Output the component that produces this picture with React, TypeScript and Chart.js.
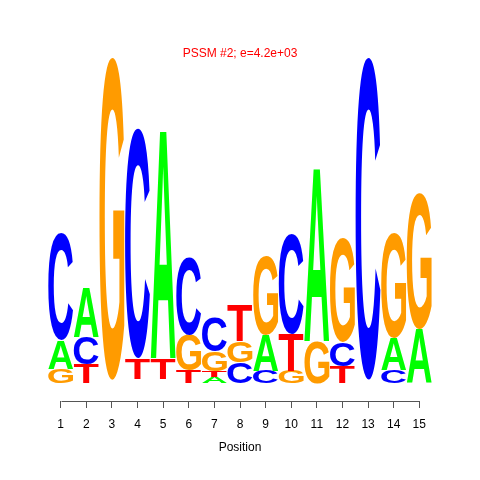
import React, { useEffect, useRef } from "react";
import { Chart, registerables } from "chart.js";

Chart.register(...registerables);

const positions = ["1", "2", "3", "4", "5", "6", "7", "8", "9", "10", "11", "12", "13", "14", "15"];
const letters = ["A", "C", "G", "T"];
const heightA = [0.178, 0.301, 0.010, 0.012, 1.411, 0, 0.037, 0, 0.221, 0, 1.071, 0, 0.012, 0.196, 0.334];
const heightC = [0.653, 0.166, 0.012, 1.411, 0.012, 0.479, 0.206, 0.128, 0.077, 0.613, 0, 0.147, 1.978, 0.083, 0];
const heightG = [0.086, 0, 1.980, 0.015, 0.015, 0.218, 0.120, 0.130, 0.482, 0.077, 0.258, 0.641, 0.012, 0.644, 0.834];
const heightT = [0, 0.120, 0, 0.129, 0.129, 0.077, 0.040, 0.226, 0, 0.227, 0, 0.104, 0, 0, 0];
const letterColors: Record<string, string> = { A: "#00FF00", C: "#0000FF", G: "#FF9B00", T: "#FF0000" };
const titleText = "PSSM #2; e=4.2e+03";
const xTitle = "Position";

const FONT = "'Liberation Sans', Arial, Helvetica, sans-serif";

export default function App() {
  const ref = useRef<HTMLCanvasElement>(null);

  useEffect(() => {
    document.body.style.margin = "0";
    const canvas = ref.current!;
    const all = [heightA, heightC, heightG, heightT];
    const rankLetters: string[][] = [[], [], [], []];
    const rankValues: number[][] = [[], [], [], []];
    positions.forEach((_, i) => {
      const items = letters.map((l, k) => ({ l, v: all[k][i] }));
      items.sort((a, b) => a.v - b.v);
      items.forEach((it, r) => {
        rankLetters[r].push(it.l);
        rankValues[r].push(it.v);
      });
    });

    const datasets = rankValues.map((vals, r) => ({
      label: "rank" + r,
      data: vals,
      backgroundColor: "rgba(0,0,0,0)",
      borderWidth: 0,
      barPercentage: 1,
      categoryPercentage: 0.975,
    }));

    const metricsCache: Record<string, TextMetrics> = {};
    const logoPlugin = {
      id: "logoLetters",
      afterDatasetsDraw(chart: any) {
        const ctx = chart.ctx as CanvasRenderingContext2D;
        ctx.save();
        ctx.font = "bold 100px " + FONT;
        ctx.textAlign = "left";
        ctx.textBaseline = "alphabetic";
        chart.data.datasets.forEach((_: any, r: number) => {
          const meta = chart.getDatasetMeta(r);
          meta.data.forEach((el: any, i: number) => {
            const v = rankValues[r][i];
            if (!v || v <= 0) return;
            const L = rankLetters[r][i];
            const p = el.getProps(["x", "y", "base", "width"], true);
            const left = p.x - p.width / 2;
            const top = Math.min(p.y, p.base);
            const h = Math.abs(p.base - p.y);
            if (h < 4) return;
            let m = metricsCache[L];
            if (!m) {
              m = ctx.measureText(L);
              metricsCache[L] = m;
            }
            const inkW = m.actualBoundingBoxLeft + m.actualBoundingBoxRight;
            const inkH = m.actualBoundingBoxAscent + m.actualBoundingBoxDescent;
            ctx.save();
            ctx.translate(left, top);
            ctx.scale(p.width / inkW, h / inkH);
            ctx.fillStyle = letterColors[L];
            ctx.fillText(L, m.actualBoundingBoxLeft, m.actualBoundingBoxAscent);
            ctx.restore();
          });
        });
        ctx.restore();
      },
      afterDraw(chart: any) {
        const ctx = chart.ctx as CanvasRenderingContext2D;
        const xs = chart.scales.x;
        const y = Math.round(chart.chartArea.bottom) + 0.5;
        ctx.save();
        ctx.strokeStyle = "#555555";
        ctx.lineWidth = 1;
        ctx.beginPath();
        ctx.moveTo(Math.round(xs.getPixelForValue(0)) + 0.5, y);
        ctx.lineTo(Math.round(xs.getPixelForValue(positions.length - 1)) + 0.5, y);
        ctx.stroke();
        ctx.fillStyle = "#FF0000";
        ctx.font = "12px " + FONT;
        ctx.textAlign = "center";
        ctx.textBaseline = "middle";
        ctx.fillText(titleText, 240, 54);
        ctx.restore();
      },
    };

    const chart = new Chart(canvas, {
      type: "bar",
      data: { labels: positions, datasets },
      options: {
        animation: false,
        responsive: false,
        events: [],
        layout: { padding: { top: 41.2, left: 47.9, right: 47.9, bottom: 21.2 } },
        plugins: { legend: { display: false }, tooltip: { enabled: false }, title: { display: false } },
        scales: {
          x: {
            stacked: true,
            offset: true,
            border: { display: false },
            grid: {
              display: true,
              drawOnChartArea: false,
              drawTicks: true,
              tickLength: 7,
              offset: false,
              color: "#555555",
              lineWidth: 1,
            },
            ticks: {
              autoSkip: false,
              maxRotation: 0,
              color: "#000000",
              padding: 9,
              font: { size: 12, family: FONT },
            },
            title: {
              display: true,
              text: xTitle,
              color: "#000000",
              font: { size: 12, family: FONT },
              padding: { top: 0, bottom: 4 },
            },
          },
          y: {
            stacked: true,
            display: false,
            min: -0.1074,
            max: 2.1,
          },
        },
      },
      plugins: [logoPlugin],
    });
    return () => chart.destroy();
  }, []);

  return (
    <div style={{ width: 480, height: 480 }}>
      <canvas ref={ref} width={480} height={480} style={{ display: "block" }} />
    </div>
  );
}
